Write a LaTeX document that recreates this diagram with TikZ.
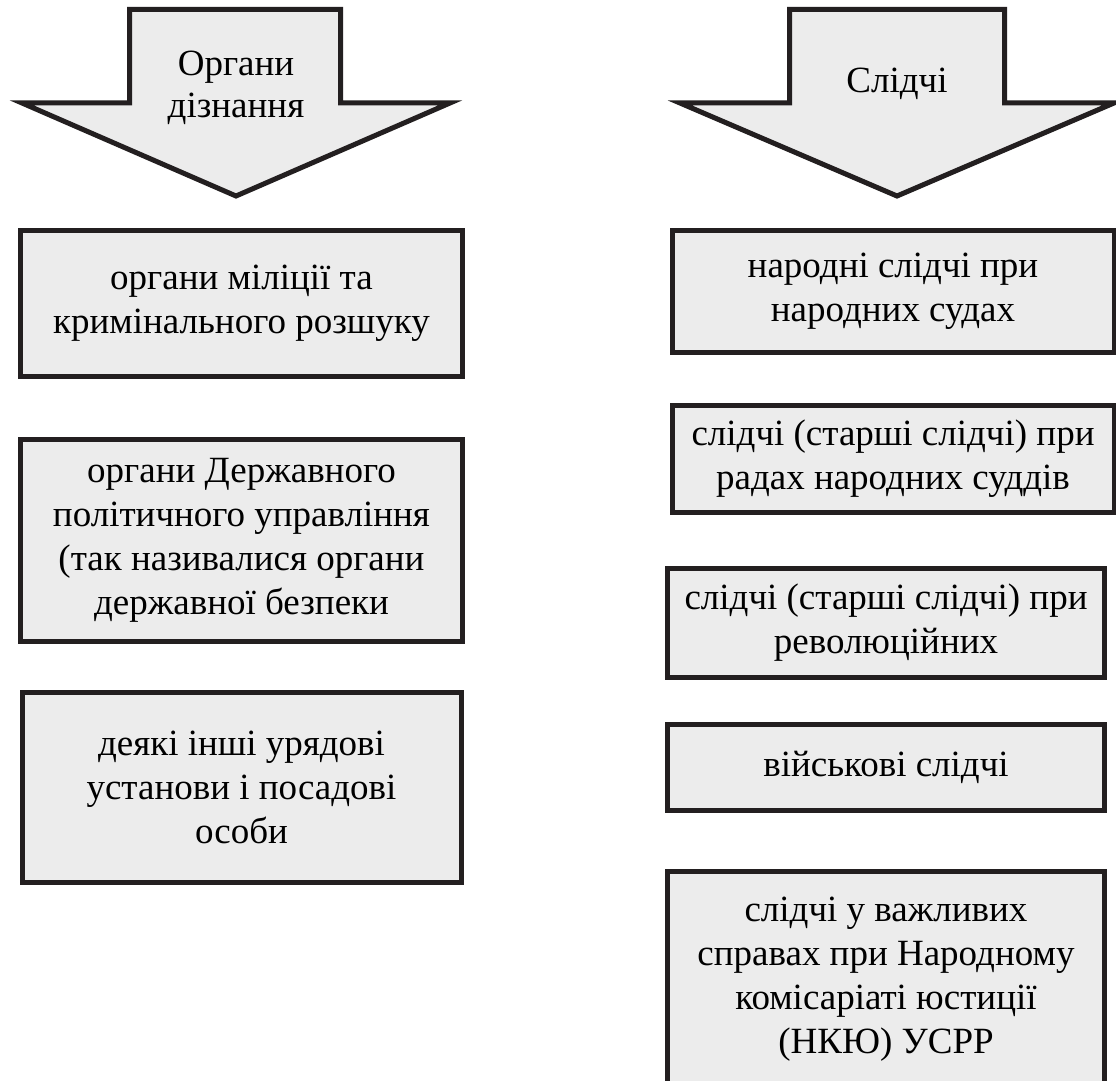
\documentclass[tikz,border=0pt]{standalone}
\usepackage{fontspec}
\setmainfont{Liberation Serif}
\usetikzlibrary{positioning}
\definecolor{boxgray}{RGB}{236,236,236}
\definecolor{edgeblack}{RGB}{35,31,32}

\begin{document}
\begin{tikzpicture}[
    x=0.5pt, y=-0.5pt,
    node distance=24pt,
    itembox/.style={rectangle, draw=edgeblack, fill=boxgray, line width=2.5pt, minimum width=221pt, inner sep=0pt, align=center, font=\fontsize{18.5pt}{22pt}\selectfont},
    heading/.style={align=center, font=\fontsize{18.5pt}{21pt}\selectfont},
    bigarrow/.style={draw=edgeblack, fill=boxgray, line width=2.5pt, line join=miter},
]
\clip (0,0) rectangle (1116,1081);
\fill[white] (0,0) rectangle (1116,1081);

% block arrows
\draw[bigarrow] (129.5,9.5) -- (340.5,9.5) -- (340.5,103) -- (450,103) -- (236,196) -- (22,103) -- (129.5,103) -- cycle;
\node[heading] (organy) at (236,88) {Органи\\дізнання};

\draw[bigarrow] (789.5,9.5) -- (1004.5,9.5) -- (1004.5,103) -- (1114,103) -- (897,196) -- (680,103) -- (789.5,103) -- cycle;
\node[heading] (slidchi) at (897,84) {Слідчі};

% left column
\node[itembox, minimum height=73pt] (militsiia) at (241.5,303.5) {органи міліції та\\кримінального розшуку};
\node[itembox, minimum height=101pt, below=29pt of militsiia] (dpu) {органи Державного\\політичного управління\\(так називалися органи\\державної безпеки};
\node[itembox, minimum height=95pt, minimum width=219.5pt, below=23pt of dpu] (inshi) {деякі інші урядові\\установи і посадові\\особи};

% right column
\node[itembox, minimum height=61pt] (narodni) at (893,291.5) {народні слідчі при\\народних судах};
\node[itembox, minimum height=53.5pt, below=24pt of narodni] (rady) {слідчі (старші слідчі) при\\радах народних суддів};
\node[itembox, minimum height=54.5pt, minimum width=218.5pt, below=25.5pt of rady, xshift=-3.5pt] (revol) {слідчі (старші слідчі) при\\революційних};
\node[itembox, minimum height=43pt, minimum width=218.5pt, below=21pt of revol] (viiskovi) {військові слідчі};
\node[itembox, minimum height=108pt, minimum width=218.5pt, below=28pt of viiskovi] (nkiu) {слідчі у важливих\\справах при Народному\\комісаріаті юстиції\\(НКЮ) УСРР};

\end{tikzpicture}
\end{document}
